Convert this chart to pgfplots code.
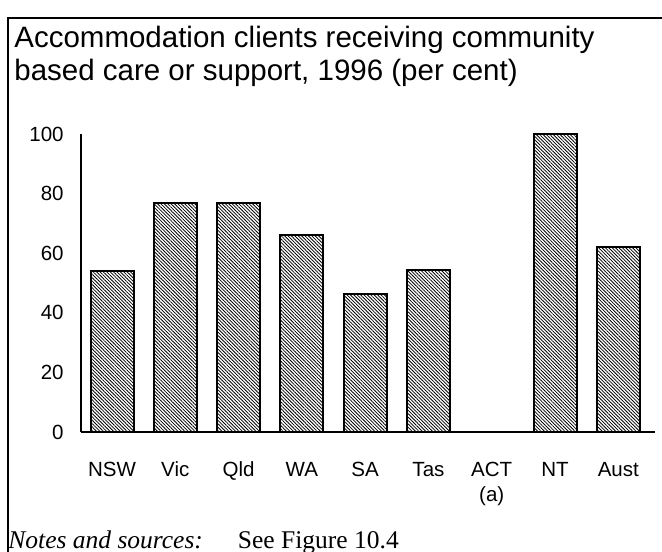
\documentclass[border=0pt]{standalone}
\usepackage{fontspec}
\setmainfont{Liberation Sans}
\newfontfamily\timesfont{Liberation Serif}
\usepackage{pgfplots}
\pgfplotsset{compat=1.18}
\usetikzlibrary{patterns.meta}
\begin{document}
\begin{tikzpicture}
\useasboundingbox (0,0) rectangle (331bp,276bp);
\draw[line width=1bp] (3.75bp,-2bp) -- (3.75bp,267bp) -- (335bp,267bp);
\node[anchor=base west, inner sep=0pt, font=\fontsize{14.8}{17}\selectfont] at (7bp,252.25bp) {Accommodation clients receiving community};
\node[anchor=base west, inner sep=0pt, font=\fontsize{14.8}{17}\selectfont] at (7bp,235.75bp) {based care or support, 1996 (per cent)};
\node[anchor=base west, inner sep=0pt, font=\timesfont\fontsize{12.8}{14}\selectfont] at (4bp,2bp) {\textit{Notes and sources:}\hspace{17.5bp}See Figure 10.4};
\begin{axis}[
  scale only axis,
  width=287bp, height=149bp,
  at={(40.5bp,60bp)}, anchor=south west,
  xmin=-0.49, xmax=8.58,
  ymin=0, ymax=100,
  axis x line=bottom, axis y line=left,
  axis line style={-, line width=1bp},
  xtick={0,1,2,3,4,5,6,7,8},
  xticklabels={{\strut NSW},{\strut Vic},{\strut Qld},{\strut WA},{\strut SA},{\strut Tas},{\strut ACT\\\strut(a)},{\strut NT},{\strut Aust}},
  ytick={0,20,40,60,80,100},
  major tick length=0pt,
  tick style={draw=none},
  /pgf/number format/assume math mode=true,
  ticklabel style={font=\fontsize{10.3}{12.5}\selectfont, inner sep=0pt},
  xticklabel style={align=center, anchor=north, yshift=-13.25bp},
  yticklabel style={anchor=east, xshift=-8.5bp},
  ybar, bar width=21.5bp,
]
\addplot[draw=black, line width=1bp,
  pattern={Lines[angle=-45,distance=1.2bp,line width=0.4bp]}, pattern color=black]
  coordinates {(0,54) (1,77) (2,77) (3,66) (4,46.3) (5,54.4) (7,100) (8,62)};
\end{axis}
\end{tikzpicture}
\end{document}
